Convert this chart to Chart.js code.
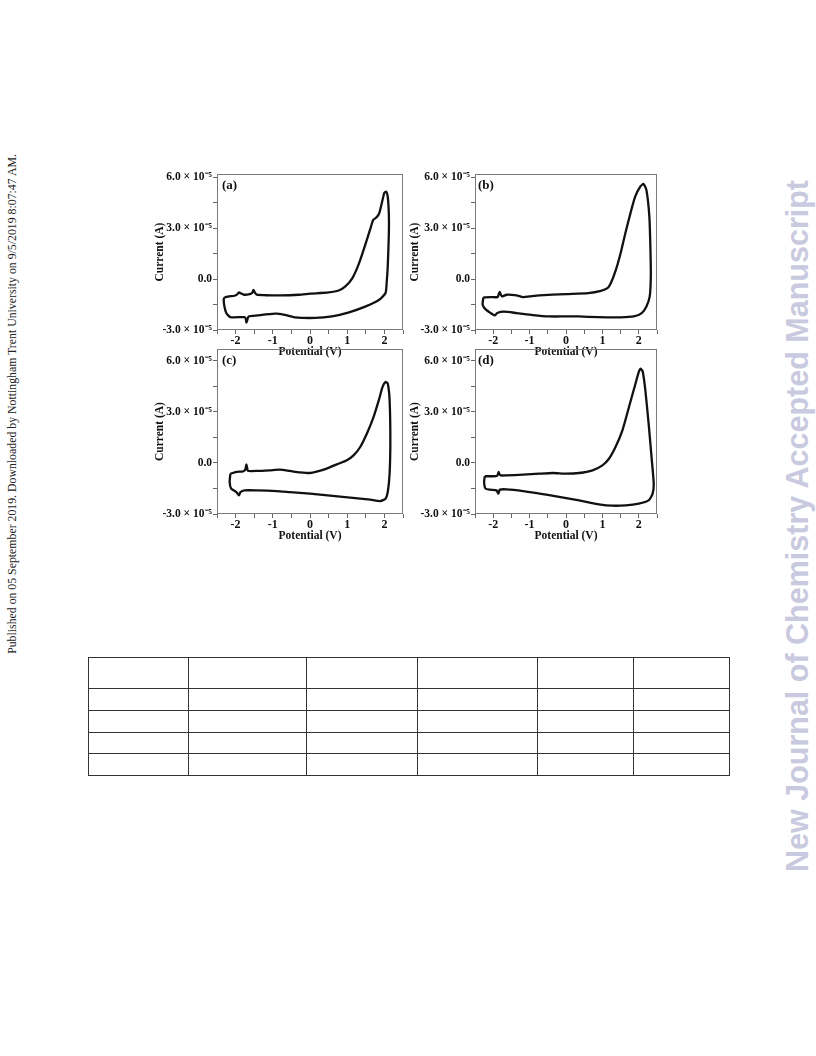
<!DOCTYPE html>
<html>
<head>
<meta charset="utf-8">
<script src="https://cdn.jsdelivr.net/npm/chart.js@4.4.1/dist/chart.umd.min.js"></script>
<style>
  html, body { margin:0; padding:0; background:#fff; }
  body { width:816px; height:1056px; position:relative; overflow:hidden; }
  .panel { position:absolute; }
  .plabel { position:absolute; font-family:"Liberation Serif", serif; font-weight:bold; font-size:13px; color:#111; }
  .side-left { position:absolute; left:12px; top:404px; transform:translate(-50%,-50%) rotate(-90deg); white-space:nowrap;
    font-family:"Liberation Serif", serif; font-size:11.8px; color:#222; }
  .side-right { position:absolute; left:797px; top:526px; transform:translate(-50%,-50%) rotate(-90deg); white-space:nowrap;
    font-family:"Liberation Sans", Arial, sans-serif; font-weight:bold; font-size:30.5px; color:#c9c9e0; }
  table.grid { position:absolute; left:88px; top:657px; border-collapse:collapse; }
  table.grid td { border:1px solid #333; padding:0; }
</style>
</head>
<body>
<div class="side-left">Published on 05 September 2019. Downloaded by Nottingham Trent University on 9/5/2019 8:07:47 AM.</div>
<div class="side-right">New Journal of Chemistry Accepted Manuscript</div>

<div class="panel" id="wa"><canvas id="ca"></canvas></div>
<div class="panel" id="wb"><canvas id="cb"></canvas></div>
<div class="panel" id="wc"><canvas id="cc"></canvas></div>
<div class="panel" id="wd"><canvas id="cd"></canvas></div>
<div class="plabel" style="left:222px;top:177px;">(a)</div>
<div class="plabel" style="left:478px;top:177px;">(b)</div>
<div class="plabel" style="left:222px;top:352px;">(c)</div>
<div class="plabel" style="left:478px;top:352px;">(d)</div>

<table class="grid" id="tbl"></table>

<script>
// ---------- DATA (potential in V, current in units of 1e-5 A) ----------
const panelLabels = ['(a)', '(b)', '(c)', '(d)'];
const xTickValues = [-2, -1, 0, 1, 2];
const yTickValues = [-3, 0, 3, 6];
const yTickLabels = ['-3.0 \u00d7 10\u207b\u2075', '0.0', '3.0 \u00d7 10\u207b\u2075', '6.0 \u00d7 10\u207b\u2075'];
const xTitle = 'Potential (V)';
const yTitle = 'Current (A)';

const potentialA = [-2.30,-2.18,-2.03,-1.95,-1.91,-1.86,-1.77,-1.62,-1.55,-1.52,-1.48,-1.43,-1.2,-0.77,-0.3,0,0.5,0.77,0.95,1.14,1.32,1.50,1.64,1.70,1.79,1.86,1.95,2.0,2.05,2.09,2.12,2.12,2.09,2.06,2.03,1.86,1.5,1.05,0.59,0.14,-0.41,-0.77,-0.95,-1.41,-1.65,-1.69,-1.71,-1.73,-1.77,-2.14,-2.25,-2.30,-2.32,-2.30];
const currentA   = [-1.08,-1.02,-0.98,-0.88,-0.78,-0.84,-0.92,-0.88,-0.80,-0.63,-0.80,-0.92,-0.95,-0.96,-0.92,-0.86,-0.78,-0.67,-0.43,0.06,0.94,2.12,3.10,3.49,3.65,3.88,4.67,5.10,5.16,4.86,3.8,2.71,0.75,-0.24,-0.82,-1.22,-1.61,-1.96,-2.20,-2.29,-2.25,-2.06,-2.04,-2.14,-2.2,-2.45,-2.55,-2.3,-2.24,-2.24,-2.0,-1.61,-1.2,-1.08];

const potentialB = [-2.27,-2.07,-1.88,-1.85,-1.82,-1.79,-1.76,-1.63,-1.36,-1.18,-1.0,-0.73,0,0.61,0.96,1.14,1.23,1.37,1.5,1.63,1.77,1.90,2.04,2.13,2.21,2.29,2.32,2.33,2.30,2.21,2.08,1.86,1.5,0.88,0.34,0,-0.46,-0.91,-1.36,-1.71,-1.89,-1.96,-2.07,-2.2,-2.29,-2.27];
const currentB   = [-1.08,-1.06,-1.06,-0.9,-0.75,-0.92,-1.02,-0.92,-0.96,-1.06,-1.02,-0.96,-0.88,-0.82,-0.69,-0.53,-0.24,0.55,1.53,2.71,3.88,4.86,5.45,5.61,5.25,3.69,1.73,0.16,-1.02,-1.61,-2.0,-2.2,-2.25,-2.24,-2.2,-2.2,-2.2,-2.12,-2.0,-1.92,-2.0,-2.14,-2.0,-1.80,-1.51,-1.08];

const potentialC = [-2.14,-1.98,-1.80,-1.74,-1.71,-1.68,-1.66,-1.44,-1.08,-0.81,-0.54,-0.27,0,0.18,0.45,0.72,0.99,1.17,1.35,1.53,1.71,1.85,1.95,2.03,2.09,2.14,2.16,2.14,2.09,2.03,1.89,1.62,1.08,0.54,0,-0.54,-0.90,-1.44,-1.76,-1.87,-1.91,-1.98,-2.12,-2.16,-2.14];
const currentC   = [-0.63,-0.53,-0.49,-0.4,-0.08,-0.4,-0.47,-0.47,-0.43,-0.39,-0.47,-0.55,-0.59,-0.51,-0.33,-0.08,0.16,0.45,0.94,1.73,2.71,3.69,4.47,4.76,4.67,3.69,1.33,-0.63,-1.71,-2.10,-2.24,-2.16,-2.04,-1.92,-1.80,-1.71,-1.65,-1.61,-1.61,-1.71,-1.90,-1.71,-1.51,-1.12,-0.63];

const potentialD = [-2.23,-2.0,-1.89,-1.87,-1.85,-1.83,-1.80,-1.64,-1.18,-0.73,-0.36,0,0.36,0.73,1.0,1.18,1.36,1.55,1.73,1.91,2.0,2.05,2.11,2.18,2.27,2.35,2.41,2.38,2.27,2.0,1.64,1.27,0.91,0.36,-0.27,-0.73,-1.18,-1.64,-1.82,-1.84,-1.86,-1.91,-2.09,-2.21,-2.25,-2.23];
const currentD   = [-0.78,-0.78,-0.75,-0.65,-0.53,-0.65,-0.73,-0.73,-0.69,-0.63,-0.59,-0.63,-0.59,-0.43,-0.14,0.25,0.94,1.92,3.29,4.67,5.35,5.55,5.35,4.27,2.31,0.35,-1.22,-1.80,-2.20,-2.39,-2.49,-2.51,-2.43,-2.20,-1.96,-1.80,-1.65,-1.55,-1.57,-1.7,-1.80,-1.61,-1.57,-1.51,-1.12,-0.78];

// table grid (empty cells)
const tableColWidths = [100, 118, 111, 120, 96, 96];
const tableRowHeights = [31, 22, 22, 21, 22];

// ---------- LAYOUT ----------
const panels = [
  { id:'a', xs:potentialA, ys:currentA, box:{L:217,T:174,R:403,B:330}, yAxisW:67, yMax:6.2 },
  { id:'b', xs:potentialB, ys:currentB, box:{L:475,T:174,R:657,B:330}, yAxisW:70, yMax:6.2 },
  { id:'c', xs:potentialC, ys:currentC, box:{L:217,T:349,R:403,B:514}, yAxisW:67, yMax:6.7 },
  { id:'d', xs:potentialD, ys:currentD, box:{L:475,T:349,R:657,B:514}, yAxisW:70, yMax:6.7 },
];
const PAD_TOP = 9, PAD_RIGHT = 9, X_AXIS_H = 29;

const boxPlugin = {
  id:'boxPlugin',
  beforeDatasetsDraw(chart) {
    const {ctx, chartArea:a} = chart;
    ctx.save();
    ctx.strokeStyle = '#7a7a7a';
    ctx.lineWidth = 1;
    ctx.strokeRect(Math.round(a.left)+0.5, Math.round(a.top)+0.5, Math.round(a.right-a.left)-1, Math.round(a.bottom-a.top)-1);
    ctx.restore();
  }
};

const tickFont = { family:'"Liberation Serif", serif', weight:'bold', size:12 };
const titleFont = { family:'"Liberation Serif", serif', weight:'bold', size:11.5 };

panels.forEach(p => {
  const w = p.yAxisW + (p.box.R - p.box.L) + PAD_RIGHT;
  const h = PAD_TOP + (p.box.B - p.box.T) + X_AXIS_H;
  const wrap = document.getElementById('w' + p.id);
  wrap.style.left = (p.box.L - p.yAxisW) + 'px';
  wrap.style.top = (p.box.T - PAD_TOP) + 'px';
  const cv = document.getElementById('c' + p.id);
  cv.width = w; cv.height = h;
  cv.style.width = w + 'px'; cv.style.height = h + 'px';

  const pts = p.xs.map((x, i) => ({ x, y: p.ys[i] }));
  new Chart(cv.getContext('2d'), {
    type: 'scatter',
    data: { datasets: [{
      data: pts, showLine: true, borderColor: '#111', borderWidth: 2.3,
      pointRadius: 0, pointHoverRadius: 0, tension: 0.2, fill: false
    }]},
    options: {
      responsive: false, animation: false, devicePixelRatio: 1,
      layout: { padding: { top: PAD_TOP, right: PAD_RIGHT, left: 0, bottom: 0 } },
      plugins: { legend: { display:false }, tooltip: { enabled:false } },
      scales: {
        x: {
          type: 'linear', min: -2.5, max: 2.5,
          border: { display: false },
          grid: { drawOnChartArea: false, drawTicks: true, tickLength: 4, tickColor: '#666' },
          ticks: {
            stepSize: 0.5, includeBounds: false, autoSkip: false, maxRotation: 0, padding: 0,
            color: '#111', font: tickFont,
            callback: v => xTickValues.includes(v) ? String(v) : ''
          },
          title: { display: true, text: xTitle, color: '#111', font: titleFont, padding: 0 },
          afterFit: s => { s.height = X_AXIS_H; }
        },
        y: {
          type: 'linear', min: -3, max: p.yMax,
          border: { display: false },
          grid: { drawOnChartArea: false, drawTicks: true, tickLength: 4, tickColor: '#666' },
          ticks: {
            stepSize: 1.5, includeBounds: false, autoSkip: false, padding: 1,
            color: '#111', font: { ...tickFont, size: 11.5 },
            callback: v => { const k = yTickValues.indexOf(v); return k >= 0 ? yTickLabels[k] : ''; }
          },
          title: { display: true, text: yTitle, color: '#111', font: titleFont, padding: 3 },
          afterFit: s => { s.width = p.yAxisW; }
        }
      }
    },
    plugins: [boxPlugin]
  });
});

// table
const tbl = document.getElementById('tbl');
tableRowHeights.forEach(rh => {
  const tr = document.createElement('tr');
  tableColWidths.forEach(cw => {
    const td = document.createElement('td');
    td.style.width = (cw - 1) + 'px';
    td.style.height = (rh - 1) + 'px';
    tr.appendChild(td);
  });
  tbl.appendChild(tr);
});
</script>
</body>
</html>
